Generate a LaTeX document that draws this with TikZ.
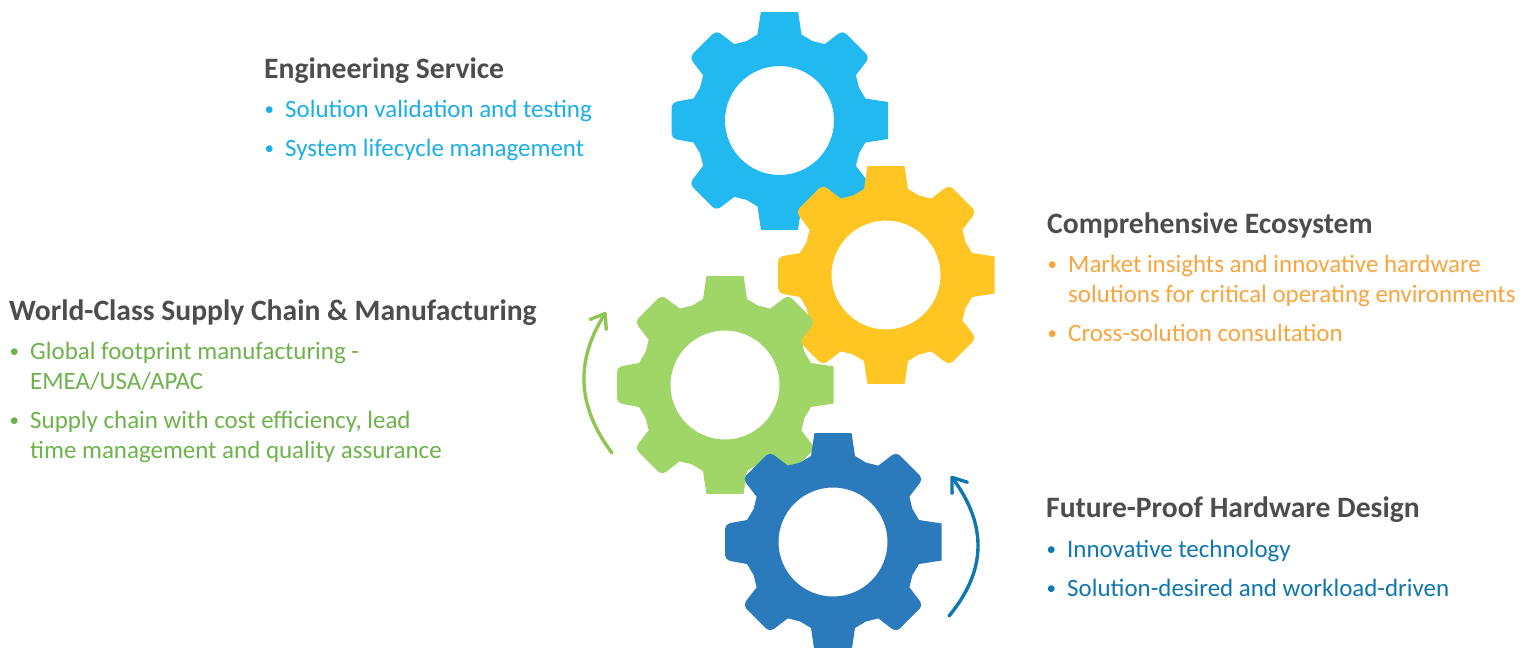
\documentclass[tikz,border=0pt]{standalone}
\usepackage{fontspec}
\setmainfont{Carlito}
\usetikzlibrary{arrows.meta}
\definecolor{gBlue}{HTML}{22B8F0}
\definecolor{gYellow}{HTML}{FFC522}
\definecolor{gGreen}{HTML}{A0D568}
\definecolor{gDark}{HTML}{2A7ABC}
\definecolor{tBlue}{HTML}{1AAEE8}
\definecolor{tOrange}{HTML}{F9A53E}
\definecolor{tGreen}{HTML}{6DB24A}
\definecolor{tDark}{HTML}{0F76B0}
\definecolor{tHead}{HTML}{4D4D4D}
\definecolor{aGreen}{HTML}{8FC653}
\newcommand\gtooth[3]{-- ([rotate=#1]86,22) [rounded corners=5pt] -- ([rotate=#1]#2,#3) -- ([rotate=#1]#2,-#3) [sharp corners] -- ([rotate=#1]86,-22) -- ([rotate=#1+22.5]86,0)}
\newcommand\gear[3]{%
 \begin{scope}[shift={(#1,#2)}]
  \clip (-108.5,-108.5) rectangle (108.5,108.5);
  \fill[#3,even odd rule] ([rotate=0]86,22) \gtooth{0}{125}{16} \gtooth{45}{108.5}{19} \gtooth{90}{113}{18} \gtooth{135}{108.5}{19} \gtooth{180}{108}{18} \gtooth{225}{108.5}{19} \gtooth{270}{113}{18} \gtooth{315}{108.5}{19} -- cycle (0,0) circle[radius=54.5];
 \end{scope}}
\tikzset{
 head/.style={anchor=base west,inner sep=0pt,font=\fontsize{29.6}{29.6}\selectfont\bfseries,text=tHead},
 item/.style={anchor=base west,inner sep=0pt,font=\fontsize{24.95}{24.95}\selectfont},
 dot/.style={anchor=base west,inner sep=0pt,font=\fontsize{19}{19}\selectfont},
 turn/.style={line width=3.4pt,line cap=round,-{Straight Barb[length=13pt,width=19pt,line width=3.4pt,round]}}
}
\begin{document}
\begin{tikzpicture}[x=1pt,y=-1pt]
\useasboundingbox (0,0) rectangle (1532,648);
\gear{779.5}{120.5}{gBlue}
\gear{886}{275}{gYellow}
\gear{725}{385}{gGreen}
\gear{833}{542}{gDark}
\coordinate (ga) at (612,453);
\coordinate (gb) at (606,312);
\coordinate (da) at (949,616);
\coordinate (db) at (951,476);
\draw[turn,color=aGreen] (ga) .. controls (576,405) and (576,360) .. (gb);
\draw[turn,color=tDark] (da) .. controls (987,570) and (987,525) .. (db);
\node[head] (h1) at (264,78) {Engineering Service};
\node[dot,text=tBlue] (b1a) at (264.5,115.5) {•};
\node[item,text=tBlue] (t1a) at (285,117) {Solution validation and testing};
\node[dot,text=tBlue] (b1b) at (264.5,154.5) {•};
\node[item,text=tBlue] (t1b) at (285,156) {System lifecycle management};
\node[head] (h2) at (1047,233) {Comprehensive Ecosystem};
\node[dot,text=tOrange] (b2a) at (1047.5,270.5) {•};
\node[item,text=tOrange] (t2a) at (1068,272) {Market insights and innovative hardware};
\node[item,text=tOrange] (t2b) at (1068,302) {solutions for critical operating environments};
\node[dot,text=tOrange] (b2c) at (1047.5,339.5) {•};
\node[item,text=tOrange] (t2c) at (1068,341) {Cross-solution consultation};
\node[head] (h3) at (9,320) {World-Class Supply Chain \& Manufacturing};
\node[dot,text=tGreen] (b3a) at (9.5,357.5) {•};
\node[item,text=tGreen] (t3a) at (30,359) {Global footprint manufacturing -};
\node[item,text=tGreen] (t3b) at (30,389) {EMEA/USA/APAC};
\node[dot,text=tGreen] (b3c) at (9.5,426.5) {•};
\node[item,text=tGreen] (t3c) at (30,428) {Supply chain with cost efficiency, lead};
\node[item,text=tGreen] (t3d) at (30,458) {time management and quality assurance};
\node[head] (h4) at (1046,517) {Future-Proof Hardware Design};
\node[dot,text=tDark] (b4a) at (1046.5,555.5) {•};
\node[item,text=tDark] (t4a) at (1067,557) {Innovative technology};
\node[dot,text=tDark] (b4b) at (1046.5,594.5) {•};
\node[item,text=tDark] (t4b) at (1067,596) {Solution-desired and workload-driven};
\end{tikzpicture}
\end{document}
